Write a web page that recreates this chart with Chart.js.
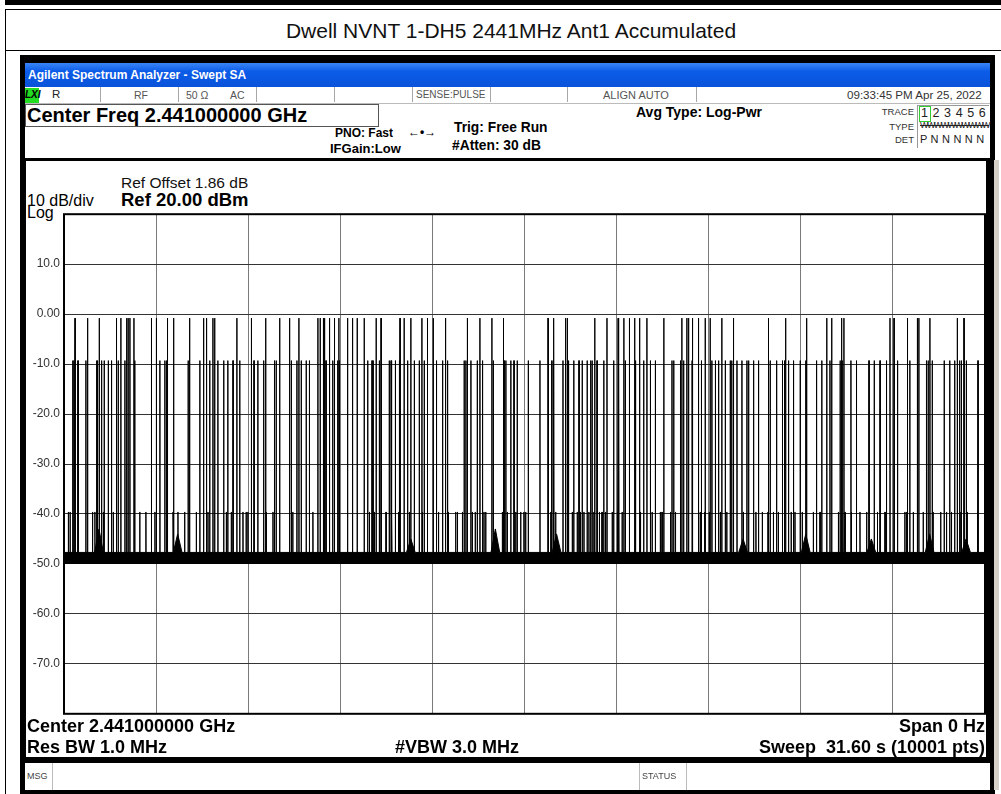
<!DOCTYPE html>
<html>
<head>
<meta charset="utf-8">
<script src="https://cdn.jsdelivr.net/npm/chart.js@4.4.1/dist/chart.umd.min.js"></script>
<style>
body { margin:0; width:1001px; height:794px; background:#fff; position:relative; overflow:hidden; font-family:"Liberation Sans", Arial, sans-serif; }
.b { position:absolute; }
.t { position:absolute; white-space:nowrap; line-height:1; }
.bold { font-weight:bold; }
.cell { position:absolute; top:0; height:15px; border-right:1px solid #a8a8a8; }
.small { font-size:10.5px; color:#555; }
</style>
</head>
<body>
<!-- page frame -->
<div class="b" style="left:5px;top:0;width:996px;height:5px;background:#000"></div>
<div class="b" style="left:5px;top:9px;width:996px;height:1px;background:#000"></div>
<div class="b" style="left:5px;top:9px;width:1px;height:785px;background:#000"></div>
<div class="b" style="left:5px;top:50px;width:996px;height:1px;background:#000"></div>
<div class="t" style="left:0;width:1022px;text-align:center;top:20px;font-size:21px;color:#111">Dwell NVNT 1-DH5 2441MHz Ant1 Accumulated</div>

<!-- instrument window -->
<div class="b" style="left:20px;top:55px;width:975px;height:739px;background:#000"></div>
<div class="b" style="left:994px;top:160px;width:5px;height:630px;background:#d4d0c8"></div>
<div class="b" style="left:25px;top:63px;width:965px;height:24px;background:linear-gradient(to bottom,#3a86f7 0%,#0c5ce8 35%,#0a53da 100%)"></div>
<div class="t bold" style="left:28px;top:69px;font-size:12px;color:#fff">Agilent Spectrum Analyzer - Swept SA</div>

<!-- status row -->
<div class="b" style="left:25px;top:87px;width:965px;height:16px;background:#fff;border-bottom:1px solid #bbb">
  <div class="cell" style="left:0;width:75px"></div>
  <div class="cell" style="left:76px;width:77px"></div>
  <div class="cell" style="left:154px;width:77px"></div>
  <div class="cell" style="left:232px;width:77px"></div>
  <div class="cell" style="left:310px;width:77px"></div>
  <div class="cell" style="left:388px;width:77px"></div>
  <div class="cell" style="left:466px;width:76px"></div>
  <div class="cell" style="left:543px;width:128px"></div>
</div>
<div class="b" style="left:25px;top:88px;width:14px;height:15px;background:#22dd22"></div>
<div class="t bold" style="left:25px;top:90px;font-size:10px;font-style:italic;color:#000">LXI</div>
<div class="t" style="left:52px;top:89px;font-size:11.5px;color:#222">R</div>
<div class="t small" style="left:134px;top:90px">RF</div>
<div class="t small" style="left:186px;top:90px">50 Ω</div>
<div class="t small" style="left:230px;top:90px">AC</div>
<div class="t small" style="left:416px;top:90px;font-size:10px">SENSE:PULSE</div>
<div class="t small" style="left:603px;top:90px;font-size:11px">ALIGN AUTO</div>
<div class="t" style="left:847px;top:89px;font-size:11.6px;color:#333">09:33:45 PM Apr 25, 2022</div>

<!-- settings area -->
<div class="b" style="left:25px;top:104px;width:965px;height:54px;background:#fff"></div>
<div class="b" style="left:25px;top:104px;width:352px;height:21px;border:1px solid #555"></div>
<div class="t bold" style="left:27px;top:105px;font-size:20px;color:#000">Center Freq 2.441000000 GHz</div>
<div class="t bold" style="left:335px;top:127px;font-size:12px">PNO: Fast</div>
<div class="t bold" style="left:408px;top:126px;font-size:12px">&#8592;&#8226;&#8594;</div>
<div class="t bold" style="left:330px;top:142px;font-size:13px">IFGain:Low</div>
<div class="t bold" style="left:454px;top:121px;font-size:13.8px">Trig: Free Run</div>
<div class="t bold" style="left:452px;top:139px;font-size:13.8px">#Atten: 30 dB</div>
<div class="t bold" style="left:636px;top:105px;font-size:14px">Avg Type: Log-Pwr</div>
<div class="t" style="left:870px;width:44px;text-align:right;top:107px;font-size:9.5px;color:#333">TRACE</div>
<div class="t" style="left:870px;width:44px;text-align:right;top:122px;font-size:9.5px;color:#333">TYPE</div>
<div class="t" style="left:870px;width:44px;text-align:right;top:135px;font-size:9.5px;color:#333">DET</div>
<div class="b" style="left:917px;top:105px;width:71px;height:42px;border-left:1px solid #999;border-top:1px solid #999"></div>
<div class="b" style="left:919px;top:106px;width:10px;height:14px;border:1px solid #3c3"></div>
<div class="t" style="left:921px;top:107px;font-size:12.5px;color:#222;letter-spacing:4.6px">123456</div>
<div class="t" style="left:920px;top:121px;font-size:9px;color:#222;letter-spacing:-1.6px;text-decoration:line-through">WWWWWWWWWW</div>
<div class="t" style="left:920px;top:134px;font-size:11px;color:#222;letter-spacing:0.2px">P N N N N N</div>

<!-- graticule panel -->
<div class="b" style="left:26px;top:161px;width:960px;height:596px;background:#fff"></div>
<div class="t" style="left:121px;top:175px;font-size:15.5px;color:#111">Ref Offset 1.86 dB</div>
<div class="t bold" style="left:121px;top:191px;font-size:18.5px;color:#000">Ref 20.00 dBm</div>
<div class="t" style="left:27px;top:193px;font-size:16px;color:#000">10 dB/div</div>
<div class="t" style="left:27px;top:205px;font-size:16px;color:#000">Log</div>
<div class="b" style="left:24px;top:203px;width:966px;height:522px"><canvas id="sa_chart"></canvas></div>
<div class="t bold" style="left:27px;top:717px;font-size:18px">Center 2.441000000 GHz</div>
<div class="t bold" style="left:27px;top:738px;font-size:18px">Res BW 1.0 MHz</div>
<div class="t bold" style="left:395px;top:738px;font-size:18px">#VBW 3.0 MHz</div>
<div class="t bold" style="left:700px;width:285px;text-align:right;top:717px;font-size:18px">Span 0 Hz</div>
<div class="t bold" style="left:600px;width:385px;text-align:right;top:738px;font-size:18px">Sweep&nbsp; 31.60 s (10001 pts)</div>

<!-- message bar -->
<div class="b" style="left:25px;top:763px;width:965px;height:27px;background:#fff"></div>
<div class="b" style="left:52px;top:763px;width:1px;height:27px;background:#bbb"></div>
<div class="b" style="left:639px;top:763px;width:1px;height:27px;background:#bbb"></div>
<div class="b" style="left:686px;top:763px;width:1px;height:27px;background:#bbb"></div>
<div class="t" style="left:27px;top:772px;font-size:9px;color:#444">MSG</div>
<div class="t" style="left:642px;top:772px;font-size:9px;color:#444">STATUS</div>

<script>
// zero span sweep, 31.6 s over 10 divisions
const sweepTime = 31.6;
const yTickValues = [20, 10, 0, -10, -20, -30, -40, -50, -60, -70, -80];
const floorLevel = -48;
const floorBandTop = -47.7;
const floorBandBottom = -50;
const burstLevels = [-0.8, -9.3, -39.6]; // full, adjacent channel, far channel

// burst start times (s)
const tallBurstTimes = [0.38, 0.81, 1.21, 1.80, 1.95, 2.15, 2.20, 2.26, 2.40, 3.00, 3.17, 3.55, 3.77, 4.31, 4.79, 4.89,
  5.11, 5.17, 5.93, 6.43, 6.92, 7.40, 7.74, 8.06, 8.71, 8.79, 8.90, 8.94, 9.11, 9.28, 9.43, 9.73, 9.90, 10.06,
  10.30, 10.71, 10.88, 11.53, 11.67, 11.90, 12.28, 12.47, 12.67, 13.08, 13.84, 14.27, 14.68, 15.07, 16.61, 16.81,
  17.21, 17.27, 18.21, 18.63, 19.01, 19.21, 19.40, 19.58, 19.75, 20.00, 20.58, 21.20, 21.37, 21.43, 21.57, 21.77,
  22.00, 22.17, 22.57, 22.97, 24.17, 24.76, 25.48, 26.17, 26.34, 26.68, 26.76, 28.34, 28.48, 28.94, 29.28, 29.33,
  29.71, 30.65, 30.88];
const midBurstTimes = [0.30, 0.34, 0.47, 0.49, 0.75, 1.12, 1.15, 1.29, 1.38, 1.52, 1.63, 1.86, 2.09, 2.43, 3.29, 3.46,
  3.52, 4.26, 4.66, 5.00, 5.28, 5.48, 5.62, 5.80, 6.03, 6.52, 6.65, 6.85, 7.22, 7.28, 7.80, 7.99, 8.14, 8.31, 8.42,
  8.99, 9.22, 9.39, 9.45, 10.42, 10.57, 10.61, 10.82, 11.16, 11.22, 11.37, 11.50, 11.79, 12.02, 12.19, 12.36, 12.78,
  12.99, 13.16, 13.73, 13.79, 13.96, 14.18, 14.36, 14.73, 15.10, 15.16, 15.33, 15.44, 15.55, 15.93, 16.33, 16.73,
  16.78, 17.12, 17.30, 17.32, 17.49, 17.67, 17.78, 17.95, 18.07, 18.12, 18.29, 18.52, 18.86, 19.04, 19.26, 19.61,
  19.89, 20.12, 20.29, 20.86, 20.92, 21.15, 21.26, 21.55, 21.87, 22.23, 22.35, 22.46, 22.69, 22.86, 22.91, 23.09,
  23.26, 23.43, 23.49, 23.66, 23.83, 24.23, 24.45, 24.65, 24.72, 24.86, 25.03, 25.26, 25.45, 25.82, 26.00, 26.28,
  26.63, 26.70, 27.00, 27.19, 27.62, 27.80, 28.00, 28.22, 28.60, 29.02, 29.59, 29.65, 29.79, 30.20, 30.39, 30.56,
  30.73, 30.79, 30.96, 31.36];
const lowBurstTimes = [0.15, 0.21, 0.98, 1.06, 1.35, 1.69, 2.60, 2.81, 3.12, 3.74, 3.91, 4.14, 4.54, 4.94, 5.57, 5.74,
  6.14, 6.25, 6.31, 6.94, 7.17, 7.85, 8.54, 10.48, 10.65, 11.05, 11.25, 11.48, 11.85, 12.30, 12.85, 13.10, 13.19,
  13.44, 13.50, 13.67, 14.01, 14.11, 14.41, 14.47, 15.04, 15.21, 15.50, 15.67, 15.78, 15.84, 16.70, 16.87, 17.44,
  17.61, 17.72, 17.84, 18.01, 18.18, 18.37, 18.46, 18.58, 18.81, 18.98, 19.15, 19.78, 20.18, 20.46, 20.52, 20.81,
  20.98, 21.83, 21.98, 22.14, 22.52, 22.74, 23.31, 23.74, 23.96, 24.15, 24.34, 24.51, 24.95, 25.08, 25.33, 25.71,
  25.94, 26.57, 26.80, 27.02, 27.31, 27.54, 27.91, 28.17, 28.85, 28.91, 29.14, 29.48, 29.82, 30.08, 30.28, 30.45,
  30.77, 30.99, 31.34];

// wider humps sitting on the noise floor
const floorBumpTimes = [1.20, 3.90, 11.90, 14.80, 16.90, 23.30, 25.45, 27.70, 29.70, 30.95];
const floorBumpLevels = [-43.0, -44.0, -45.0, -43.0, -44.0, -45.0, -44.0, -45.0, -44.0, -45.0];

const bursts = [];
tallBurstTimes.forEach(t => bursts.push([t, burstLevels[0]]));
midBurstTimes.forEach(t => bursts.push([t, burstLevels[1]]));
lowBurstTimes.forEach(t => bursts.push([t, burstLevels[2]]));
bursts.sort((a, b) => a[0] - b[0]);

const trace_data = [{x: 0, y: floorLevel}];
for (let i = 0; i < bursts.length; i++) {
    const t = bursts[i][0];
    trace_data.push({x: t - 0.004, y: floorLevel});
    trace_data.push({x: t, y: bursts[i][1]});
    trace_data.push({x: t + 0.004, y: floorLevel});
}
trace_data.push({x: sweepTime, y: floorLevel});

const floor_data = [{x: 0, y: floorBandTop}];
for (let i = 0; i < floorBumpTimes.length; i++) {
    floor_data.push({x: floorBumpTimes[i] - 0.15, y: floorBandTop});
    floor_data.push({x: floorBumpTimes[i], y: floorBumpLevels[i]});
    floor_data.push({x: floorBumpTimes[i] + 0.15, y: floorBandTop});
}
floor_data.push({x: sweepTime, y: floorBandTop});

const plotBorder = {
    id: 'plotBorder',
    afterDraw(chart) {
        const a = chart.chartArea;
        const ctx = chart.ctx;
        ctx.save();
        ctx.strokeStyle = '#000';
        ctx.lineWidth = 2;
        ctx.strokeRect(a.left, a.top, a.right - a.left, a.bottom - a.top);
        ctx.restore();
    }
};

const config = {
    type: 'line',
    data: {
        datasets: [{
            label: 'floor', data: floor_data, borderColor: '#000', borderWidth: 1,
            backgroundColor: '#000', fill: {value: floorBandBottom}, pointRadius: 0, tension: 0
        }, {
            label: 'Trace 1', data: trace_data, borderColor: '#000', borderWidth: 1,
            fill: false, pointRadius: 0, tension: 0
        }]
    },
    options: {
        animation: false,
        responsive: true,
        maintainAspectRatio: false,
        layout: {padding: {top: 8, right: 5, bottom: 5, left: 0}},
        scales: {
            x: {
                type: 'linear', min: 0, max: sweepTime,
                afterBuildTicks: function (scale) {
                    const ticks = [];
                    for (let k = 0; k <= 10; k++) ticks.push({value: k * sweepTime / 10});
                    scale.ticks = ticks;
                },
                afterFit: function (scale) { scale.height = 0; },
                ticks: {display: false},
                border: {display: false},
                grid: {color: '#7a7a7a', lineWidth: 1, drawTicks: false}
            },
            y: {
                min: -80, max: 20,
                afterBuildTicks: function (scale) {
                    scale.ticks = yTickValues.map(v => ({value: v}));
                },
                afterFit: function (scale) { scale.width = 40; },
                ticks: {
                    padding: 4, color: '#333',
                    font: {family: 'Liberation Sans', size: 12},
                    callback: function (v) {
                        if (v === 20 || v === -80) return '';
                        if (v === 0) return '0.00';
                        return v.toFixed(1);
                    }
                },
                border: {display: false},
                grid: {color: '#333', lineWidth: 1, drawTicks: false}
            }
        },
        plugins: {
            legend: {display: false},
            tooltip: {enabled: false}
        }
    },
    plugins: [plotBorder]
};
const myChart = new Chart(document.getElementById('sa_chart'), config);
</script>
</body>
</html>
